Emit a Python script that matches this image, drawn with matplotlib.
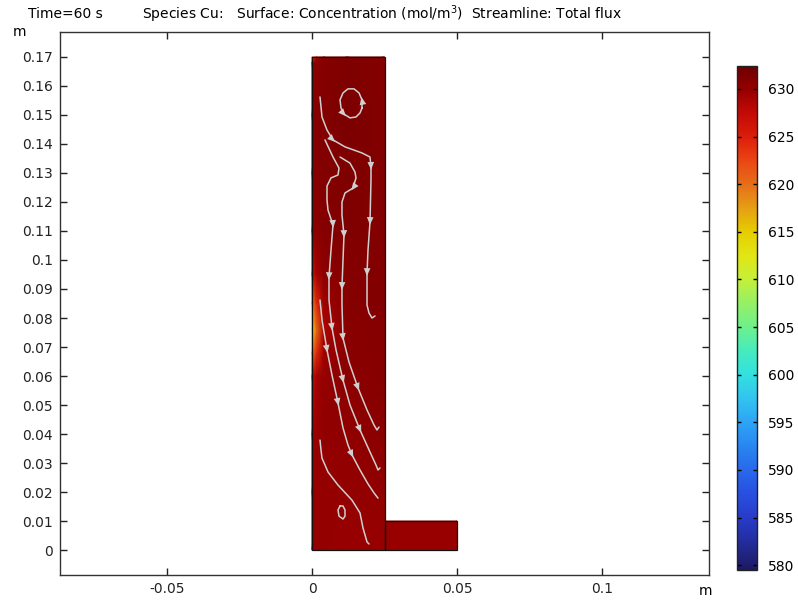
import numpy as np
import matplotlib
matplotlib.use('Agg')
import matplotlib.pyplot as plt
from matplotlib.colors import LinearSegmentedColormap, Normalize
from matplotlib.patches import Rectangle

# concentration field (mol/m^3) sampled on the tall cell, x / y in m
field_x = [0.0, 0.0015, 0.004, 0.012, 0.025]
field_y = [0.0, 0.02, 0.04, 0.06, 0.068, 0.076, 0.085, 0.095, 0.11, 0.13, 0.15, 0.168, 0.17]
field_c = [
    [630.0, 630.0, 630.0, 629.8, 629.9],
    [629.8, 629.9, 630.0, 630.0, 630.3],
    [629.3, 629.8, 630.2, 630.3, 630.6],
    [627.0, 629.0, 630.0, 630.5, 630.8],
    [620.0, 624.0, 629.5, 630.6, 630.9],
    [615.0, 620.0, 628.5, 630.6, 630.9],
    [619.0, 624.0, 629.5, 630.8, 631.0],
    [626.0, 629.0, 630.5, 630.9, 631.0],
    [630.3, 630.6, 630.8, 631.2, 631.0],
    [630.5, 630.8, 631.0, 631.3, 631.0],
    [630.5, 630.8, 631.0, 631.4, 631.0],
    [630.3, 630.6, 630.9, 631.2, 630.9],
    [622.0, 629.5, 630.6, 631.0, 630.7],
]
# bottom outlet cell
outlet_x = [0.025, 0.05]
outlet_y = [0.0, 0.01]
outlet_c = [[629.9, 629.8], [629.9, 629.8]]

c_min, c_max = 579.5, 632.4
cbar_ticks = [580, 585, 590, 595, 600, 605, 610, 615, 620, 625, 630]

# streamlines of total flux, points in mm
stream_a = [(2.76, 156.2), (3.45, 149.3), (5.17, 144.8), (7.24, 141.4), (11.38, 139.0),
            (17.24, 136.9), (20.0, 135.5), (20.34, 132.1), (20.34, 127.6), (20.0, 113.1),
            (19.31, 103.4), (18.97, 95.5), (18.97, 84.5), (19.66, 81.7), (20.69, 80.0),
            (21.72, 80.7)]
stream_b = [(4.48, 141.4), (7.24, 135.5), (9.31, 131.7), (8.97, 129.3), (6.55, 128.3),
            (5.17, 125.5), (5.17, 120.7), (5.52, 117.2), (7.24, 112.1), (6.55, 103.4),
            (5.86, 94.1), (5.86, 86.2), (6.90, 76.6), (8.28, 69.0), (10.69, 58.6),
            (13.10, 50.0), (16.55, 41.4), (20.0, 33.8), (22.07, 29.3), (22.76, 27.6),
            (23.45, 28.3)]
stream_c = [(2.76, 86.2), (3.45, 79.3), (5.17, 69.0), (6.90, 60.3), (8.97, 50.7),
            (10.69, 42.1), (12.41, 36.2), (13.79, 32.8), (16.55, 27.6), (19.31, 22.8),
            (21.38, 19.7), (22.76, 17.9)]
stream_d = [(9.66, 135.5), (13.10, 133.4), (14.83, 130.3), (15.17, 128.3), (14.14, 124.8),
            (11.38, 123.1), (10.34, 120.0), (10.34, 115.5), (11.03, 108.6), (10.69, 100.0),
            (10.34, 90.7), (10.34, 84.5), (10.69, 73.1), (12.76, 64.8), (15.86, 55.9),
            (18.97, 48.3), (21.38, 43.1), (22.41, 41.4), (23.10, 42.4)]
stream_e = [(2.76, 37.9), (3.10, 34.5), (3.45, 31.7), (5.52, 26.9), (8.97, 22.4),
            (13.79, 17.2), (16.55, 12.8), (17.59, 7.6), (18.97, 2.8), (19.66, 2.1)]
stream_loop = [(17.24, 152.4), (17.24, 155.2), (16.21, 157.6), (14.48, 159.0), (12.41, 159.0),
               (10.69, 157.6), (9.66, 155.2), (10.0, 152.4), (11.03, 150.3), (13.10, 149.0),
               (15.17, 149.3), (16.55, 150.7), (17.24, 152.4)]
stream_small = [(9.66, 15.2), (8.97, 13.8), (9.31, 11.7), (10.69, 10.7), (11.38, 11.7),
                (11.38, 13.8), (10.69, 15.2), (9.66, 15.2)]
# which points carry an arrow head
streams = [
    (stream_a, [3, 7, 9, 11]),
    (stream_b, [8, 10, 12, 14, 16]),
    (stream_c, [2, 4, 7]),
    (stream_d, [4, 8, 10, 12, 14]),
    (stream_e, []),
    (stream_loop, [1, 8]),
    (stream_small, []),
]

# COMSOL-like rainbow
rainbow = [(28, 25, 100), (30, 30, 110), (35, 45, 160), (40, 60, 200), (40, 80, 225),
           (40, 105, 235), (40, 135, 240), (45, 165, 245), (50, 195, 240), (50, 225, 225),
           (70, 235, 190), (110, 240, 140), (150, 240, 100), (195, 240, 60), (225, 230, 20),
           (230, 205, 0), (230, 160, 20), (230, 110, 25), (235, 70, 20), (220, 30, 10),
           (195, 10, 5), (150, 0, 0), (110, 0, 0)]
rainbow_at = [579.5, 580, 582.5, 585, 587.5, 590, 592.5, 595, 597.5, 600, 602.5, 605,
              607.5, 610, 612.5, 615, 617.5, 620, 622.5, 625, 627.5, 630, 632.4]
cmap = LinearSegmentedColormap.from_list(
    'comsol_rainbow',
    [((v - c_min) / (c_max - c_min), tuple(c / 255 for c in rgb)) for v, rgb in zip(rainbow_at, rainbow)])
norm = Normalize(c_min, c_max)

fs = 10

fig = plt.figure(figsize=(7.98, 6.01), dpi=100)
ax = fig.add_axes([60 / 798, 26 / 601, 649 / 798, 543 / 601])

fx, fy = np.meshgrid(field_x, field_y)
ax.pcolormesh(fx, fy, np.array(field_c), cmap=cmap, norm=norm, shading='gouraud')
ox, oy = np.meshgrid(outlet_x, outlet_y)
ax.pcolormesh(ox, oy, np.array(outlet_c), cmap=cmap, norm=norm, shading='gouraud')

ax.add_patch(Rectangle((0, 0), 0.025, 0.17, fill=False, ec='#111111', lw=0.9, zorder=3))
ax.add_patch(Rectangle((0.025, 0), 0.025, 0.01, fill=False, ec='#111111', lw=0.9, zorder=3))

line_col = '#cfcfcf'
for pts, arrows in streams:
    p = np.array(pts) / 1000.0
    ax.plot(p[:, 0], p[:, 1], color=line_col, lw=1.1, zorder=4, solid_capstyle='round')
    for i in arrows:
        d = p[min(i + 1, len(p) - 1)] - p[max(i - 1, 0)]
        d = d / np.hypot(*d) * 0.001
        ax.annotate('', xy=p[i] + d, xytext=p[i],
                    arrowprops=dict(arrowstyle='-|>,head_length=0.7,head_width=0.3',
                                    color=line_col, lw=0, mutation_scale=8),
                    zorder=5)

ax.set_xlim(-0.0869, 0.1369)
ax.set_ylim(-0.0086, 0.1786)
ax.set_xticks([-0.05, 0, 0.05, 0.1])
ax.set_xticklabels(['-0.05', '0', '0.05', '0.1'])
yt = [round(0.01 * k, 2) for k in range(18)]
ax.set_yticks(yt)
ax.set_yticklabels(['0'] + [f'{v:g}' for v in yt[1:]])
ax.tick_params(direction='in', top=True, right=True, length=5, width=1,
               labelsize=fs, colors='#222222', pad=5)
for s in ax.spines.values():
    s.set_color('#333333')
    s.set_linewidth(1.0)

fig.text(13 / 798, 1 - 32 / 601, 'm', fontsize=fs, va='center', ha='left')
fig.text(705 / 798, 1 - 591 / 601, 'm', fontsize=fs, va='center', ha='center')
fig.text(28 / 798, 1 - 14 / 601, 'Time=60 s', fontsize=fs, va='center', ha='left')
fig.text(382 / 798, 1 - 14 / 601,
         'Species Cu:   Surface: Concentration (mol/m$^3$)  Streamline: Total flux',
         fontsize=fs, va='center', ha='center')

cax = fig.add_axes([737 / 798, 31 / 601, 20 / 798, 504 / 601])
cb = fig.colorbar(plt.cm.ScalarMappable(norm=norm, cmap=cmap), cax=cax)
cb.set_ticks(cbar_ticks)
cb.outline.set_edgecolor('#222222')
cb.outline.set_linewidth(1.0)
cax.tick_params(direction='in', left=True, right=True, length=3, width=1,
                labelsize=fs, pad=8)

fig.savefig('out.png', dpi=100)
